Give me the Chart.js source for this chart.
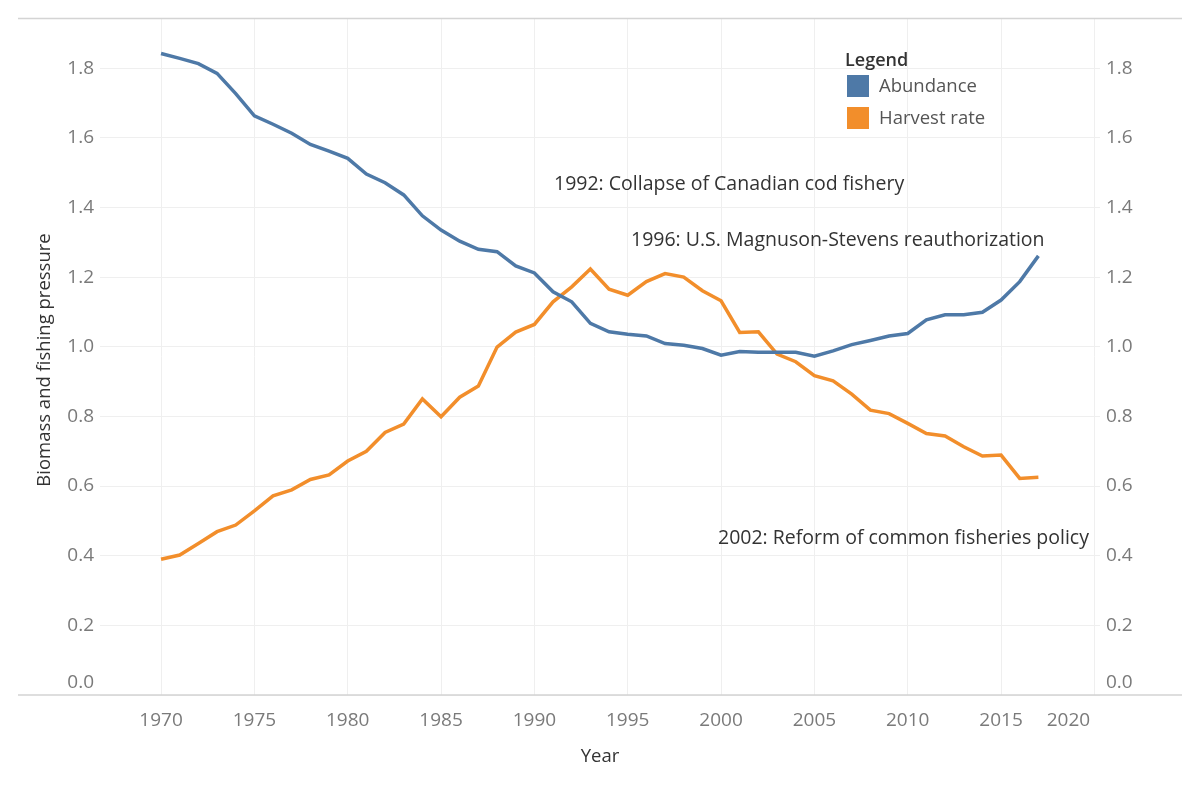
<!DOCTYPE html>
<html>
<head>
<meta charset="utf-8">
<title>Abundance and harvest rate</title>
<script src="https://cdn.jsdelivr.net/npm/chart.js@4.4.1/dist/chart.umd.min.js"></script>
<style>
  html, body { margin: 0; padding: 0; background: #fff; }
  #wrap { width: 1200px; height: 799px; }
</style>
</head>
<body>
<div id="wrap"><canvas id="fishChart" width="1200" height="799"></canvas></div>
<script>
const years = [1970, 1971, 1972, 1973, 1974, 1975, 1976, 1977, 1978, 1979,
  1980, 1981, 1982, 1983, 1984, 1985, 1986, 1987, 1988, 1989,
  1990, 1991, 1992, 1993, 1994, 1995, 1996, 1997, 1998, 1999,
  2000, 2001, 2002, 2003, 2004, 2005, 2006, 2007, 2008, 2009,
  2010, 2011, 2012, 2013, 2014, 2015, 2016, 2017];

const abundance = [1.842, 1.828, 1.813, 1.785, 1.727, 1.663, 1.639, 1.613, 1.581, 1.562,
  1.541, 1.496, 1.471, 1.436, 1.376, 1.335, 1.303, 1.280, 1.273, 1.232,
  1.212, 1.158, 1.129, 1.067, 1.043, 1.036, 1.031, 1.009, 1.004, 0.995,
  0.976, 0.986, 0.984, 0.984, 0.984, 0.973, 0.988, 1.006, 1.018, 1.031,
  1.038, 1.077, 1.092, 1.092, 1.099, 1.134, 1.187, 1.261];

const harvestRate = [0.390, 0.402, 0.435, 0.469, 0.488, 0.529, 0.572, 0.589, 0.619, 0.632,
  0.672, 0.700, 0.754, 0.778, 0.850, 0.799, 0.855, 0.887, 0.999, 1.042,
  1.064, 1.129, 1.172, 1.223, 1.165, 1.148, 1.187, 1.210, 1.200, 1.161,
  1.132, 1.041, 1.043, 0.979, 0.957, 0.917, 0.902, 0.864, 0.818, 0.808,
  0.780, 0.751, 0.744, 0.713, 0.686, 0.689, 0.622, 0.625];

const yearTicks = [1970, 1975, 1980, 1985, 1990, 1995, 2000, 2005, 2010, 2015, 2020];
const valueTicks = [0, 0.2, 0.4, 0.6, 0.8, 1.0, 1.2, 1.4, 1.6, 1.8];

const annotations = [
  { text: '1992: Collapse of Canadian cod fishery', x: 554, y: 184 },
  { text: '1996: U.S. Magnuson-Stevens reauthorization', x: 631, y: 240 },
  { text: '2002: Reform of common fisheries policy', x: 718, y: 538 }
];

const FONT = '"Open Sans", "Noto Sans", sans-serif';
const BLUE = '#4e79a7';
const ORANGE = '#f28e2b';
const TICK_GREY = '#7a7a7a';

// frame lines, titles, legend, notes and the edge labels Tableau nudges inward
const decorPlugin = {
  id: 'decor',
  afterDraw(chart) {
    const ctx = chart.ctx;
    const area = chart.chartArea;
    const xs = chart.scales.x;
    ctx.save();

    ctx.strokeStyle = '#d4d4d4';
    ctx.lineWidth = 1.5;
    ctx.beginPath();
    ctx.moveTo(18, area.top + 0.5);
    ctx.lineTo(1182, area.top + 0.5);
    ctx.moveTo(18, area.bottom);
    ctx.lineTo(1182, area.bottom);
    ctx.stroke();

    ctx.font = '19px ' + FONT;
    ctx.fillStyle = TICK_GREY;
    ctx.textBaseline = 'middle';
    ctx.textAlign = 'center';
    ctx.fillText('2020', xs.getPixelForValue(2020) - 26, 721);
    ctx.textAlign = 'right';
    ctx.fillText('0.0', 94, 683);
    ctx.textAlign = 'left';
    ctx.fillText('0.0', 1106, 683);

    ctx.fillStyle = '#333';
    ctx.font = '18.5px ' + FONT;
    ctx.textAlign = 'center';
    ctx.fillText('Year', 600, 757);
    ctx.save();
    ctx.translate(45, 360);
    ctx.rotate(-Math.PI / 2);
    ctx.fillText('Biomass and fishing pressure', 0, 0);
    ctx.restore();

    ctx.font = '19.5px ' + FONT;
    ctx.textAlign = 'left';
    annotations.forEach(a => ctx.fillText(a.text, a.x, a.y));

    ctx.font = '600 18px ' + FONT;
    ctx.fillText('Legend', 845, 61);
    ctx.font = '18.5px ' + FONT;
    chart.data.datasets.forEach((ds, i) => {
      const top = 75 + i * 32;
      ctx.fillStyle = ds.borderColor;
      ctx.fillRect(847, top, 22, 22);
      ctx.fillStyle = '#555';
      ctx.fillText(ds.label, 879, top + 12);
    });
    ctx.restore();
  }
};

const ctx = document.getElementById('fishChart').getContext('2d');
new Chart(ctx, {
  type: 'line',
  data: {
    datasets: [
      {
        label: 'Abundance',
        data: years.map((y, i) => ({ x: y, y: abundance[i] })),
        borderColor: BLUE,
        borderWidth: 3.5,
        pointRadius: 0,
        tension: 0
      },
      {
        label: 'Harvest rate',
        data: years.map((y, i) => ({ x: y, y: harvestRate[i] })),
        borderColor: ORANGE,
        borderWidth: 3.5,
        pointRadius: 0,
        tension: 0
      }
    ]
  },
  options: {
    responsive: false,
    animation: false,
    layout: { padding: { top: 18, left: 0, right: 0, bottom: 0 } },
    plugins: {
      legend: { display: false },
      tooltip: { enabled: false }
    },
    scales: {
      x: {
        type: 'linear',
        min: 1966.73,
        max: 2020.3,
        afterBuildTicks: s => { s.ticks = yearTicks.map(v => ({ value: v })); },
        afterFit: s => { s.height = 104; },
        grid: { color: '#efefef', lineWidth: 1, drawTicks: false },
        border: { display: false },
        ticks: {
          color: TICK_GREY,
          font: { family: FONT, size: 19 },
          padding: 14,
          maxRotation: 0,
          callback: v => (v === 2020 ? '' : String(v))
        }
      },
      y: {
        min: 0,
        max: 1.944,
        afterBuildTicks: s => { s.ticks = valueTicks.map(v => ({ value: v })); },
        afterFit: s => { s.width = 100; },
        grid: { color: '#efefef', lineWidth: 1, drawTicks: false },
        border: { display: false },
        ticks: {
          color: TICK_GREY,
          font: { family: FONT, size: 19 },
          padding: 6,
          callback: v => (v === 0 ? '' : v.toFixed(1))
        }
      },
      y2: {
        position: 'right',
        min: 0,
        max: 1.944,
        afterBuildTicks: s => { s.ticks = valueTicks.map(v => ({ value: v })); },
        afterFit: s => { s.width = 100; },
        grid: { display: false, drawTicks: false },
        border: { display: false },
        ticks: {
          color: TICK_GREY,
          font: { family: FONT, size: 19 },
          padding: 6,
          callback: v => (v === 0 ? '' : v.toFixed(1))
        }
      }
    }
  },
  plugins: [decorPlugin]
});
</script>
</body>
</html>
